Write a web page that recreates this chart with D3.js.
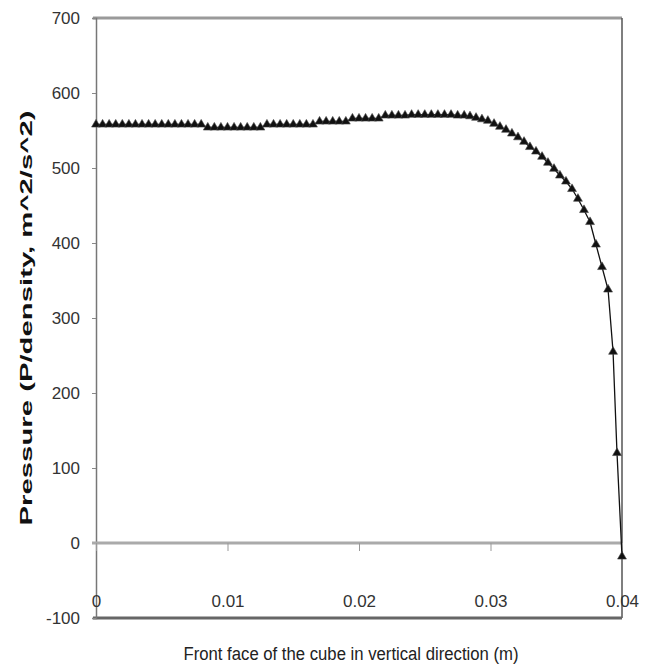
<!DOCTYPE html>
<html>
<head>
<meta charset="utf-8">
<script src="https://cdn.jsdelivr.net/npm/d3@7"></script>
<style>
  body { margin: 0; background: #fff; }
  text { font-family: "Liberation Sans", Arial, sans-serif; fill: #333; }
</style>
</head>
<body>
<div id="chart"></div>
<script>
// pressure along the front face
var positions = [
  0, 0.0005, 0.001, 0.0015, 0.002, 0.0025, 0.003, 0.0035, 0.004, 0.0045,
  0.005, 0.0055, 0.006, 0.0065, 0.007, 0.0075, 0.008, 0.0085, 0.009, 0.0095,
  0.01, 0.0105, 0.011, 0.0115, 0.012, 0.0125, 0.013, 0.0135, 0.014, 0.0145,
  0.015, 0.0155, 0.016, 0.0165, 0.017, 0.0175, 0.018, 0.0185, 0.019, 0.0195,
  0.02, 0.0205, 0.021, 0.0215, 0.022, 0.0225, 0.023, 0.0235, 0.024, 0.0245,
  0.025, 0.0255, 0.026, 0.0265, 0.027, 0.0275, 0.028, 0.02844, 0.0289, 0.02935,
  0.0298, 0.03027, 0.03072, 0.03118, 0.03163, 0.03209, 0.03255, 0.033, 0.03346, 0.03392,
  0.03437, 0.03483, 0.03528, 0.03574, 0.0362, 0.03665, 0.03711, 0.03757, 0.03802, 0.03848,
  0.03894, 0.03932, 0.03962, 0.04
];
var pressures = [
  558, 558, 558, 558, 558, 558, 558, 558, 558, 558,
  558, 558, 558, 558, 558, 558, 558, 554, 554, 554,
  554, 554, 554, 554, 554, 554, 558, 558, 558, 558,
  558, 558, 558, 558, 562, 562, 562, 562, 562, 566,
  566, 566, 566, 566, 570, 570, 570, 570, 571, 571,
  571, 571, 571, 571, 571, 570, 570, 569, 567, 565,
  563, 559, 555, 551, 546, 541, 535, 528, 522, 515,
  507, 499, 490, 482, 472, 459, 444, 428, 398, 368,
  338, 255, 120, -18
];
var yTicks = [-100, 0, 100, 200, 300, 400, 500, 600, 700];
var xTicks = [0, 0.01, 0.02, 0.03, 0.04];
var xTickLabels = ["0", "0.01", "0.02", "0.03", "0.04"];
var xTitle = "Front face of the cube in vertical direction (m)";
var yTitle = "Pressure (P/density, m^2/s^2)";

var width = 651, height = 668;
var margin = { top: 18, right: 29, bottom: 50, left: 96 };

var svg = d3.select("#chart").append("svg")
  .attr("width", width)
  .attr("height", height);

var x = d3.scaleLinear()
  .domain([0, 0.04])
  .range([margin.left, width - margin.right]);

var y = d3.scaleLinear()
  .domain([-100, 700])
  .range([height - margin.bottom, margin.top]);

// plot area frame
svg.append("line")
  .attr("x1", x(0) - 3).attr("x2", x(0.04))
  .attr("y1", y(700)).attr("y2", y(700))
  .attr("stroke", "#9a9a9a").attr("stroke-width", 3);
svg.append("line")
  .attr("x1", x(0.04)).attr("x2", x(0.04))
  .attr("y1", y(700)).attr("y2", y(-100))
  .attr("stroke", "#555").attr("stroke-width", 1.5);
svg.append("line")
  .attr("x1", x(0) - 3).attr("x2", x(0.04))
  .attr("y1", y(-100)).attr("y2", y(-100))
  .attr("stroke", "#666").attr("stroke-width", 3);

// y axis
var yAxis = d3.axisLeft(y)
  .tickValues(yTicks)
  .tickSize(4)
  .tickPadding(12)
  .tickFormat(d3.format("d"));

var gy = svg.append("g")
  .attr("transform", "translate(" + x(0) + ",0)")
  .call(yAxis);
gy.select(".domain").attr("stroke", "#777").attr("stroke-width", 1.5);
gy.selectAll(".tick line").attr("stroke", "#888");
gy.selectAll(".tick text")
  .style("font-size", "17px")
  .style("fill", "#333")
  .text(function(d) { return d < 0 ? "-" + Math.abs(d) : d; });

// zero line with hanging ticks
var xAxisZero = d3.axisBottom(x)
  .tickValues(xTicks)
  .tickSize(8)
  .tickFormat("");
var gz = svg.append("g")
  .attr("transform", "translate(0," + y(0) + ")")
  .call(xAxisZero);
gz.select(".domain").attr("stroke", "#aaa").attr("stroke-width", 3)
  .attr("d", "M" + (x(0) - 4) + ",0H" + x(0.04));
gz.selectAll(".tick line").attr("stroke", "#999");

// x tick labels sit just above the bottom frame
var xAxisLabels = d3.axisBottom(x)
  .tickValues(xTicks)
  .tickSize(0)
  .tickFormat(function(d, i) { return xTickLabels[i]; });
var gl = svg.append("g")
  .attr("transform", "translate(0," + y(-100) + ")")
  .call(xAxisLabels);
gl.select(".domain").remove();
gl.selectAll(".tick text")
  .attr("y", -11)
  .attr("dy", 0)
  .style("font-size", "17px")
  .style("fill", "#333");

// series
var data = d3.zip(positions, pressures);

svg.append("path")
  .datum(data)
  .attr("fill", "none")
  .attr("stroke", "#111")
  .attr("stroke-width", 1.3)
  .attr("d", d3.line()
    .x(function(d) { return x(d[0]); })
    .y(function(d) { return y(d[1]); }));

var tri = d3.symbol().type(d3.symbolTriangle).size(34);
svg.append("g")
  .selectAll("path")
  .data(data)
  .join("path")
  .attr("transform", function(d) { return "translate(" + x(d[0]) + "," + y(d[1]) + ")"; })
  .attr("d", tri)
  .attr("fill", "#111")
  .attr("stroke", "#444")
  .attr("stroke-width", 0.6);

// titles
svg.append("text")
  .attr("x", (x(0) + x(0.04)) / 2 - 8)
  .attr("y", 660)
  .attr("text-anchor", "middle")
  .attr("textLength", 335)
  .attr("lengthAdjust", "spacingAndGlyphs")
  .style("font-size", "18px")
  .style("fill", "#222")
  .text(xTitle);

svg.append("text")
  .attr("transform", "translate(32," + 318 + ") rotate(-90)")
  .attr("text-anchor", "middle")
  .attr("textLength", 415)
  .attr("lengthAdjust", "spacingAndGlyphs")
  .style("font-size", "17px")
  .style("font-weight", "bold")
  .style("fill", "#111")
  .text(yTitle);
</script>
</body>
</html>
